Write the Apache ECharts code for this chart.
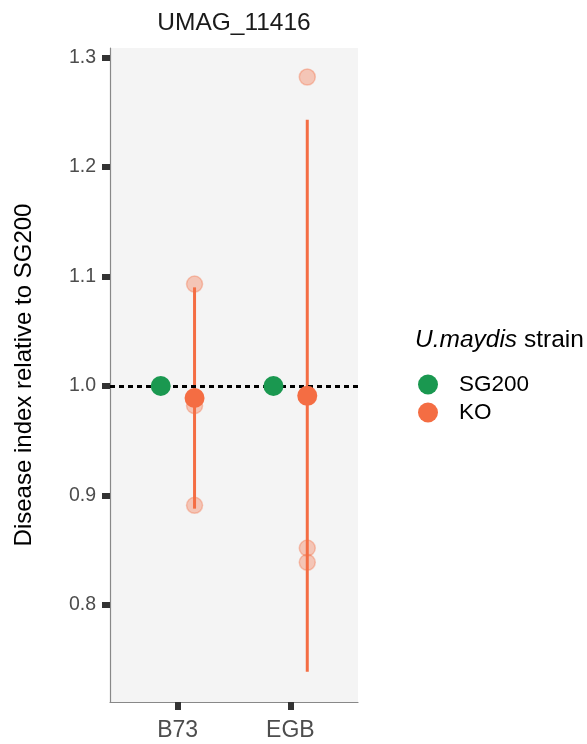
<!DOCTYPE html>
<html>
<head>
<meta charset="utf-8">
<script src="https://cdn.jsdelivr.net/npm/echarts@6/dist/echarts.min.js"></script>
<style>
html,body{margin:0;padding:0;background:#fff;}
#chart{width:587px;height:744px;}
</style>
</head>
<body>
<div id="chart"></div>
<script>
// ---- data ----
const categories = ['B73', 'EGB'];
const sg200Mean = [1.0, 1.0];
const koMean = [0.989, 0.991];
const koLower = [0.888, 0.739];
const koUpper = [1.090, 1.243];
const koReplicatesB73 = [1.093, 0.982, 0.891];
const koReplicatesEGB = [1.282, 0.852, 0.839];
const yTicks = [0.8, 0.9, 1.0, 1.1, 1.2, 1.3];
const refLine = 1.0;

// ---- layout constants ----
const dodge = 0.15;
const FONT = '"Liberation Sans", Arial, Helvetica, sans-serif';
const GREEN = '#1a9850';
const ORANGE = '#f46d43';

const koReps = [koReplicatesB73, koReplicatesEGB];
const sgData = sg200Mean.map((v, i) => [i + 1 - dodge, v]);
const koData = koMean.map((v, i) => [i + 1 + dodge, v]);
const errData = koMean.map((v, i) => [i + 1 + dodge, koLower[i], koUpper[i]]);
const repData = [];
koReps.forEach((arr, i) => arr.forEach(v => repData.push([i + 1 + dodge, v])));

const chart = echarts.init(document.getElementById('chart'), null, {renderer: 'canvas'});
chart.setOption({
  animation: false,
  backgroundColor: '#ffffff',
  textStyle: {fontFamily: FONT},
  grid: {
    left: 110, right: 229, top: 48, bottom: 42,
    show: true, backgroundColor: '#f4f4f4', borderWidth: 0
  },
  xAxis: {
    type: 'value', min: 0.4, max: 2.6,
    splitLine: {show: false},
    axisLine: {show: true, onZero: false, lineStyle: {color: '#888', width: 1.2}},
    axisTick: {show: true, customValues: [1, 2], length: 8, lineStyle: {color: '#333', width: 6}},
    axisLabel: {
      customValues: [1, 2], margin: 17, fontSize: 23, color: '#4d4d4d', fontFamily: FONT,
      formatter: v => categories[Math.round(v) - 1] || ''
    }
  },
  yAxis: {
    type: 'value', min: 0.7115, max: 1.3085,
    splitLine: {show: false},
    axisLine: {show: true, onZero: false, lineStyle: {color: '#888', width: 1.2}},
    axisTick: {show: true, customValues: yTicks, length: 8, lineStyle: {color: '#333', width: 6}},
    axisLabel: {
      customValues: yTicks, margin: 14, fontSize: 19.5, color: '#4d4d4d', fontFamily: FONT,
      formatter: v => v.toFixed(1)
    }
  },
  legend: {
    orient: 'vertical', left: 413, top: 368,
    itemWidth: 20, itemHeight: 20, itemGap: 5,
    selectedMode: false,
    textStyle: {fontSize: 22.5, color: '#000', fontFamily: FONT, padding: [0, 0, 0, 16], lineHeight: 22},
    data: [
      {name: 'SG200', icon: 'circle', itemStyle: {color: GREEN, opacity: 1}},
      {name: 'KO', icon: 'circle', itemStyle: {color: ORANGE, opacity: 1}}
    ]
  },
  graphic: [
    {type: 'text', x: 234, y: 23, silent: true,
      style: {text: 'UMAG_11416', font: '24.5px ' + FONT, fill: '#1a1a1a', textAlign: 'center', textVerticalAlign: 'middle'}},
    {type: 'text', x: 24, y: 375, rotation: Math.PI / 2, silent: true,
      style: {text: 'Disease index relative to SG200', font: '24px ' + FONT, fill: '#000', textAlign: 'center', textVerticalAlign: 'middle'}},
    {type: 'text', x: 415, y: 340, silent: true,
      style: {
        text: '{i|U.maydis}{n| strain}',
        textVerticalAlign: 'middle',
        rich: {
          i: {fontStyle: 'italic', fontSize: 24.5, fontFamily: FONT, fill: '#000', color: '#000'},
          n: {fontSize: 24.5, fontFamily: FONT, fill: '#000', color: '#000'}
        }
      }}
  ],
  series: [
    {
      name: 'KO replicates', type: 'scatter', data: repData, z: 2,
      symbol: 'circle', symbolSize: 16,
      itemStyle: {color: 'rgba(244,109,67,0.35)', borderColor: 'rgba(244,109,67,0.35)', borderWidth: 1.5, opacity: 1},
      silent: true
    },
    {
      name: 'KO error', type: 'custom', data: errData, z: 3,
      encode: {x: 0, y: [1, 2]},
      renderItem: function (params, api) {
        const x = api.value(0);
        const p1 = api.coord([x, api.value(1)]);
        const p2 = api.coord([x, api.value(2)]);
        return {type: 'line', shape: {x1: p1[0], y1: p1[1], x2: p2[0], y2: p2[1]},
          style: {stroke: ORANGE, lineWidth: 3}};
      },
      markLine: {
        silent: true, symbol: ['none', 'none'], label: {show: false},
        lineStyle: {color: '#000', type: [5, 4], width: 3, opacity: 1},
        data: [{yAxis: refLine}]
      }
    },
    {
      name: 'SG200', type: 'scatter', data: sgData, z: 5,
      symbol: 'circle', symbolSize: 20, itemStyle: {color: GREEN, opacity: 1}
    },
    {
      name: 'KO', type: 'scatter', data: koData, z: 5,
      symbol: 'circle', symbolSize: 20, itemStyle: {color: ORANGE, opacity: 1}
    }
  ]
});
</script>
</body>
</html>
